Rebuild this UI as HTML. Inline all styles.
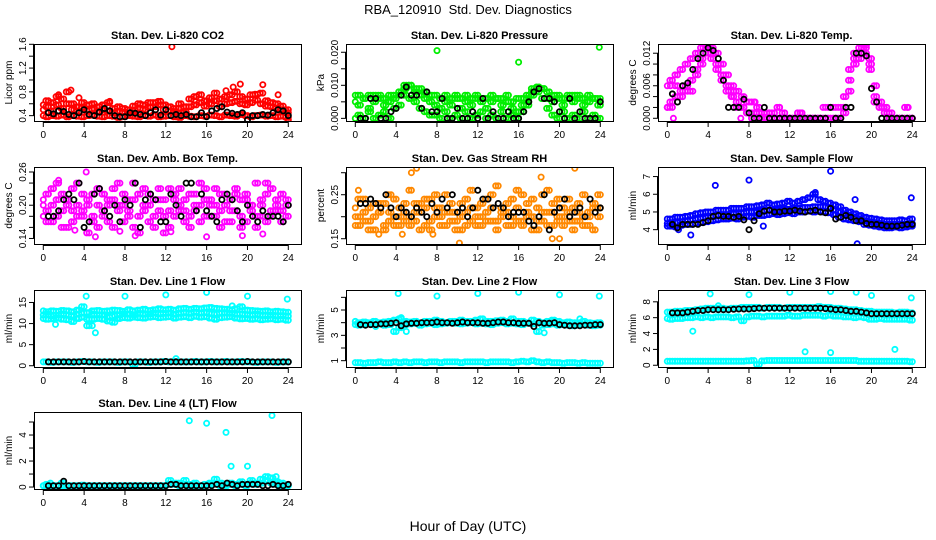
<!DOCTYPE html>
<html><head><meta charset="utf-8"><style>
html,body{margin:0;padding:0;background:#fff;}
svg{display:block;font-family:"Liberation Sans",sans-serif;}
</style></head><body>
<svg id="chart" width="936" height="540" viewBox="0 0 936 540">
<text x="468" y="14" text-anchor="middle" font-size="13" xml:space="preserve">RBA_120910  Std. Dev. Diagnostics</text>
<text x="468" y="531" text-anchor="middle" font-size="14">Hour of Day (UTC)</text>
</svg>
<script>
const hours=[0,0.5,1,1.5,2,2.5,3,3.5,4,4.5,5,5.5,6,6.5,7,7.5,8,8.5,9,9.5,10,10.5,11,11.5,12,12.5,13,13.5,14,14.5,15,15.5,16,16.5,17,17.5,18,18.5,19,19.5,20,20.5,21,21.5,22,22.5,23,23.5,24];
const xTicks=[0,4,8,12,16,20,24];

const co2Lo=[0.40,0.38,0.40,0.39,0.41,0.38,0.40,0.39,0.38,0.40,0.41,0.39,0.38,0.40,0.39,0.37,0.38,0.40,0.39,0.38,0.40,0.39,0.41,0.38,0.39,0.40,0.38,0.37,0.40,0.39,0.38,0.40,0.39,0.41,0.40,0.38,0.41,0.40,0.39,0.42,0.40,0.38,0.40,0.41,0.39,0.40,0.38,0.39,0.37];
const co2Mid=[0.50,0.55,0.48,0.58,0.52,0.60,0.50,0.47,0.53,0.49,0.51,0.46,0.50,0.48,0.45,0.47,0.46,0.44,0.49,0.52,0.50,0.54,0.55,0.58,0.50,0.48,0.47,0.52,0.46,0.55,0.58,0.62,0.56,0.60,0.65,0.55,0.60,0.62,0.64,0.60,0.58,0.62,0.66,0.60,0.56,0.55,0.52,0.50,0.45];
const co2Hi=[0.58,0.65,0.62,0.72,0.68,0.80,0.60,0.55,0.62,0.58,0.60,0.55,0.58,0.62,0.52,0.55,0.52,0.50,0.56,0.60,0.58,0.62,0.62,0.64,0.58,0.55,0.52,0.60,0.55,0.68,0.72,0.75,0.65,0.70,0.78,0.68,0.72,0.75,0.80,0.72,0.68,0.75,0.76,0.78,0.65,0.62,0.60,0.56,0.50];
const co2OutX=[12.6,2.7,19.3,21.5,18.6,17.9,3.5,1.5,6.5,23,24];
const co2OutY=[1.56,0.83,0.93,0.92,0.88,0.82,0.70,0.75,0.64,0.75,0.33];
const co2Black=[0.44,0.45,0.43,0.48,0.47,0.42,0.40,0.45,0.50,0.42,0.40,0.46,0.52,0.48,0.40,0.38,0.38,0.45,0.44,0.42,0.40,0.45,0.50,0.41,0.50,0.40,0.42,0.40,0.42,0.38,0.38,0.45,0.38,0.48,0.52,0.55,0.46,0.44,0.42,0.45,0.33,0.40,0.40,0.42,0.41,0.45,0.50,0.48,0.40];

const prLo=[0,0.001,0,0.002,0,0.001,0.002,0,0.003,0.004,0.007,0.006,0.005,0.003,0.002,0.001,0.001,0,0.002,0,0.001,0,0.002,0,0.001,0.002,0,0.001,0,0.002,0,0.001,0,0.002,0.004,0.007,0.008,0.006,0.003,0.001,0,0.002,0,0.001,0,0.002,0,0.001,0];
const prMid=[0.005,0.004,0.006,0.003,0.005,0.006,0.004,0.005,0.006,0.007,0.009,0.010,0.008,0.007,0.006,0.005,0.004,0.003,0.005,0.004,0.006,0.003,0.005,0.004,0.006,0.005,0.003,0.005,0.006,0.004,0.005,0.003,0.002,0.004,0.006,0.008,0.009,0.009,0.006,0.005,0.006,0.004,0.006,0.005,0.006,0.004,0.005,0.006,0.004];
const prHi=[0.007,0.007,0.006,0.007,0.007,0.007,0.006,0.007,0.007,0.008,0.010,0.010,0.009,0.009,0.008,0.007,0.007,0.006,0.007,0.006,0.007,0.006,0.007,0.006,0.007,0.006,0.006,0.007,0.006,0.006,0.007,0.005,0.006,0.006,0.007,0.009,0.0095,0.009,0.008,0.007,0.007,0.006,0.007,0.007,0.007,0.006,0.007,0.006,0.006];
const prOutX=[8,16,23.9];
const prOutY=[0.0205,0.017,0.0215];
const prBlack=[0,0,0,0.006,0.006,0,0,0.002,0.003,0.007,0.0095,0.007,0.007,0.003,0.008,0.002,0.002,0.006,0,0,0.003,0,0,0.002,0,0.006,0,0.002,0,0,0.002,0,0,0.002,0.005,0.008,0.009,0.006,0.006,0.005,0.002,0,0.006,0,0.002,0,0,0,0.005];

const tpHi=[0.006,0.007,0.008,0.009,0.010,0.011,0.012,0.013,0.0135,0.013,0.012,0.010,0.008,0.006,0.005,0.004,0.003,0.003,0.002,0.001,0.001,0.001,0.002,0.001,0,0,0.001,0,0,0,0,0.002,0.002,0.002,0.002,0.004,0.009,0.012,0.013,0.0135,0.011,0.006,0.003,0.002,0.001,0,0,0.002,0];
const tpMid=[0.002,0.002,0.006,0.004,0.005,0.005,0.008,0.011,0.013,0.012,0.010,0.008,0.006,0.005,0.002,0.002,0.001,0,0,0,0,0,0,0,0,0,0,0,0,0,0,0,0,0,0,0.002,0.007,0.011,0.012,0.013,0.010,0.003,0.002,0.001,0,0,0,0,0];
const tpLo=[0.002,0.003,0.004,0.005,0.006,0.007,0.009,0.010,0.012,0.011,0.009,0.007,0.005,0.004,0.003,0.002,0.001,0.001,0.001,0,0,0,0,0,0,0,0,0,0,0,0,0,0,0,0,0.001,0.005,0.010,0.011,0.012,0.009,0.004,0.002,0.002,0,0,0,0,0];
const tpOutX=[0.3,0.6,6.3,7.2,8.6,11,13.2,23.6];
const tpOutY=[0.006,0.0,0.004,0.0,0.003,0.002,0.001,0.002];
const tpBlack=[0,0.0045,0.003,0.006,0.0065,0.009,0.011,0.012,0.013,0.0125,0.011,0.007,0.002,0.002,0.002,0.0035,0.001,0,0,0.002,0,0,0,0,0,0,0,0,0,0,0,0,0.002,0,0,0.002,0.002,0.012,0.012,0.0115,0.0055,0.003,0,0,0,0,0,0,0];

const abA=[0.21,0.19,0.23,0.18,0.22,0.20,0.17,0.24,0.19,0.21,0.18,0.16,0.22,0.20,0.23,0.19,0.17,0.21,0.24,0.18,0.20,0.22,0.16,0.19,0.21,0.23,0.18,0.20,0.17,0.22,0.19,0.24,0.21,0.18,0.20,0.16,0.22,0.19,0.23,0.21,0.17,0.20,0.24,0.18,0.22,0.19,0.21,0.17,0.20];
const abB=[0.18,0.22,0.17,0.21,0.19,0.16,0.23,0.20,0.18,0.15,0.22,0.20,0.19,0.17,0.21,0.24,0.20,0.18,0.16,0.22,0.19,0.17,0.21,0.23,0.18,0.16,0.22,0.19,0.21,0.18,0.20,0.17,0.23,0.20,0.18,0.22,0.17,0.21,0.19,0.16,0.22,0.20,0.18,0.21,0.17,0.23,0.19,0.22,0.18];
const abC=[0.20,0.17,0.20,0.24,0.16,0.21,0.19,0.18,0.22,0.20,0.17,0.23,0.18,0.21,0.16,0.20,0.22,0.19,0.21,0.15,0.23,0.20,0.18,0.21,0.15,0.19,0.21,0.23,0.19,0.16,0.22,0.20,0.18,0.21,0.23,0.19,0.20,0.17,0.22,0.18,0.21,0.19,0.16,0.20,0.24,0.18,0.20,0.19,0.21];
const abOutX=[4.2,5.1,9,16,21.5,19.5,1.5,3.1,7.5,12.5];
const abOutY=[0.26,0.143,0.145,0.143,0.148,0.145,0.245,0.155,0.153,0.152];
const abBlack=[0.19,0.18,0.18,0.19,0.21,0.22,0.21,0.24,0.16,0.17,0.22,0.23,0.19,0.18,0.20,0.17,0.21,0.20,0.24,0.16,0.21,0.22,0.21,0.17,0.17,0.22,0.20,0.18,0.24,0.24,0.19,0.22,0.19,0.18,0.17,0.21,0.22,0.21,0.19,0.17,0.20,0.18,0.17,0.19,0.18,0.18,0.18,0.17,0.20];

const rhA=[0.22,0.20,0.24,0.19,0.23,0.21,0.18,0.25,0.20,0.22,0.19,0.26,0.21,0.23,0.18,0.24,0.20,0.22,0.25,0.19,0.21,0.23,0.18,0.26,0.22,0.20,0.24,0.19,0.27,0.21,0.23,0.18,0.22,0.25,0.20,0.24,0.19,0.21,0.26,0.23,0.20,0.18,0.24,0.22,0.19,0.25,0.21,0.23,0.20];
const rhB=[0.18,0.24,0.19,0.22,0.17,0.21,0.23,0.19,0.24,0.18,0.21,0.20,0.23,0.17,0.22,0.19,0.25,0.18,0.21,0.23,0.17,0.20,0.24,0.19,0.18,0.23,0.21,0.25,0.19,0.22,0.18,0.24,0.26,0.19,0.23,0.17,0.22,0.25,0.18,0.21,0.24,0.22,0.19,0.17,0.23,0.20,0.18,0.22,0.25];
const rhC=[0.20,0.18,0.21,0.17,0.20,0.23,0.17,0.21,0.18,0.20,0.23,0.18,0.19,0.21,0.24,0.17,0.22,0.20,0.18,0.21,0.19,0.17,0.21,0.22,0.20,0.18,0.19,0.22,0.17,0.20,0.21,0.20,0.19,0.18,0.21,0.20,0.17,0.19,0.21,0.18,0.19,0.20,0.21,0.19,0.21,0.18,0.20,0.17,0.22];
const rhOutX=[5.5,6,4.6,10.2,21.5,18.2,20,19.3,2.3,7.6,0.3];
const rhOutY=[0.30,0.31,0.16,0.14,0.31,0.29,0.15,0.15,0.16,0.16,0.26];
const rhBlack=[0.21,0.23,0.23,0.24,0.23,0.22,0.25,0.22,0.20,0.22,0.21,0.20,0.22,0.21,0.20,0.23,0.21,0.24,0.22,0.25,0.21,0.22,0.20,0.22,0.26,0.24,0.24,0.22,0.23,0.22,0.20,0.21,0.21,0.21,0.19,0.18,0.20,0.25,0.17,0.21,0.22,0.24,0.20,0.21,0.22,0.20,0.24,0.21,0.22];

const sfA=[4.35,4.4,4.4,4.45,4.5,4.55,4.6,4.65,4.7,4.75,4.8,4.85,4.85,4.9,4.9,4.95,5.0,5.0,5.0,5.05,5.1,5.1,5.1,5.15,5.15,5.2,5.2,5.25,5.25,5.3,5.3,5.3,5.25,5.1,5.0,4.9,4.8,4.7,4.6,4.5,4.45,4.4,4.35,4.3,4.3,4.3,4.3,4.3,4.35];
const sfB=[4.6,4.6,4.7,4.7,4.75,4.8,4.9,4.95,5.0,5.0,5.1,5.1,5.1,5.2,5.2,5.2,5.3,5.3,5.35,5.4,5.5,5.4,5.45,5.5,5.6,5.5,5.6,5.7,5.8,6.0,5.7,5.6,5.5,5.4,5.3,5.1,5.0,4.9,4.8,4.7,4.65,4.6,4.55,4.5,4.5,4.5,4.55,4.5,4.6];
const sfC=[4.2,4.2,4.15,4.25,4.3,4.3,4.35,4.4,4.45,4.5,4.55,4.6,4.6,4.65,4.6,4.7,4.75,4.7,4.8,4.8,4.85,4.9,4.85,4.9,4.95,4.9,5.0,5.0,5.05,5.0,5.05,5.0,4.95,4.85,4.7,4.6,4.55,4.5,4.45,4.3,4.25,4.2,4.15,4.1,4.1,4.15,4.1,4.15,4.2];
const sfOutX=[2.3,4.7,8,16,18.6,23.9,18.4,14.5,1.1,9.4];
const sfOutY=[3.7,6.5,6.8,7.3,3.2,5.8,5.7,6.1,4.0,4.2];
const sfBlack=[4.3,4.3,4.1,4.3,4.3,4.3,4.3,4.4,4.5,4.75,4.8,4.75,4.75,4.7,4.75,4.55,4.0,4.5,4.9,5.05,5.1,5.0,5.0,5.05,5.05,5.1,5.05,5.0,5.05,5.1,5.0,4.95,5.2,4.6,4.7,4.8,4.7,4.5,4.5,4.35,4.3,4.3,4.25,4.2,4.2,4.2,4.25,4.3,4.3];

const l1Hi=[13,12.8,13,12.9,13.1,13,12.8,13.2,14,12.6,13,13.1,12.9,13,13.2,13.1,12.9,13.3,13,13.2,13.4,13.1,13.3,13.5,13.3,13.4,13.2,13.5,13.6,13.4,13.6,13.5,13.7,13.8,13.6,13.5,13.4,13.3,13.5,14,13.2,13.1,13,12.9,13,12.8,12.9,12.8,12.7];
const l1Mid=[12,12.2,11.8,12,12.3,12.1,11.9,12.2,12.5,11,12.2,12,12.1,11.5,11.8,12,12.3,12.2,12.1,12.4,12.2,12.3,12.5,12.3,12.4,12.5,12.2,12.4,12.6,12.5,12.7,12.5,12.6,12.4,12.3,12.5,12.6,12.4,12.2,12.3,12.1,12,12.2,12,11.9,12,11.8,11.9,11.8];
const l1Lo=[11.2,11,11.1,11.3,11,10.9,10.5,11.2,11.5,9.5,11,11.2,11,10.6,10.3,11.2,11.4,11.3,11.5,11.4,11.3,11.5,11.6,11.4,11.5,11.6,11.3,11.5,11.6,11.4,11.7,11.5,11.6,11.3,11,11.4,11.5,11.6,11.3,11.1,11.2,11,11.1,10.9,11,11.1,10.9,11,10.8];
const l1Base=[0.9,0.9,0.8,0.9,0.9,0.9,0.8,0.9,1.0,0.9,0.9,0.8,0.9,0.9,0.9,0.8,0.9,0.9,0.3,0.9,0.9,0.8,0.9,0.9,1.0,0.9,1.0,0.9,0.9,0.9,1.0,0.9,0.9,1.0,0.9,0.9,1.0,0.9,0.9,1.0,0.9,0.9,0.8,0.9,0.9,0.9,0.8,0.9,0.9];
const l1OutX=[4.2,5.1,8,12,16,20,23.9,1.2,4.8,13,18.5];
const l1OutY=[16.5,7.8,16.5,16.8,17.4,16.5,15.8,9.8,9.5,1.7,14.2];
const l1Black=[0.9,0.9,0.9,0.9,0.9,0.9,0.9,0.9,1.0,0.9,0.9,0.9,0.9,0.9,0.9,0.9,0.9,0.9,0.9,0.9,0.9,0.9,0.9,0.9,1.0,0.9,0.9,0.9,0.9,0.9,0.9,0.9,0.9,0.9,0.9,0.9,0.9,0.9,0.9,0.9,1.0,0.9,0.9,0.9,0.9,0.9,0.9,0.9,0.9];

const l2Hi=[4.1,4.0,4.05,4.0,4.1,4.0,4.05,4.1,4.2,4.3,4.1,4.05,4.1,4.0,4.1,4.1,4.2,4.1,4.0,4.1,4.1,4.2,4.1,4.1,4.2,4.3,4.1,4.1,4.15,4.2,4.1,4.3,4.1,4.1,4.0,4.2,4.1,4.0,4.1,4.2,4.1,4.0,4.05,4.0,4.0,4.1,4.0,3.95,4.0];
const l2Lo=[3.85,3.8,3.85,3.9,3.85,3.9,3.8,3.85,3.3,3.6,3.85,3.9,3.95,3.8,3.9,3.95,3.85,3.9,3.95,4.0,3.95,3.9,3.95,4.0,3.9,3.95,3.9,3.85,3.95,4.0,3.9,3.95,3.9,3.85,3.95,3.9,3.3,3.8,3.85,3.9,3.8,3.85,3.8,3.75,3.8,3.85,3.8,3.75,3.8];
const l2Base=[0.85,0.85,0.8,0.85,0.85,0.9,0.85,0.85,0.9,0.85,0.9,0.85,0.9,0.9,0.85,0.9,0.9,0.85,0.9,0.9,0.9,0.85,0.9,0.9,0.9,0.9,0.85,0.9,0.9,0.9,0.9,0.85,0.9,0.95,0.9,1.0,0.9,0.85,0.9,0.85,0.85,0.8,0.85,0.85,0.8,0.85,0.8,0.8,0.8];
const l2OutX=[4.2,8,12,16,20,23.9,5,18.5,4.5,22,2,12.5];
const l2OutY=[6.3,6.1,6.3,6.4,6.2,6.1,3.3,3.2,4.4,4.3,3.7,4.3];
const l2Black=[3.8,3.85,3.8,3.85,3.85,3.9,3.9,3.95,4.0,3.75,3.9,3.95,3.95,4.0,4.0,4.0,4.05,4.0,4.0,3.95,4.0,4.05,4.0,4.0,4.0,3.95,3.95,4.0,4.05,4.05,4.0,4.0,3.95,3.95,3.95,3.7,4.0,3.95,3.95,4.0,3.85,3.8,3.75,3.75,3.75,3.8,3.8,3.85,3.85];

const l3Hi=[6.7,6.7,6.8,6.8,6.9,6.9,7.0,7.1,7.2,7.2,7.2,7.2,7.1,7.2,7.2,7.3,7.3,7.3,7.3,7.2,7.3,7.3,7.3,7.2,7.3,7.3,7.3,7.3,7.3,7.3,7.4,7.3,7.3,7.2,7.2,7.1,7.0,7.0,6.9,6.8,6.8,6.7,6.7,6.7,6.7,6.6,6.7,6.7,6.6];
const l3Lo=[5.9,5.8,5.9,5.9,6.0,6.0,6.1,6.0,6.1,6.0,6.1,6.1,6.1,6.0,6.1,5.6,6.1,6.2,6.2,6.1,6.2,6.2,6.2,6.2,6.3,6.2,6.2,6.3,6.3,6.3,6.3,6.2,6.3,6.2,6.2,6.1,6.1,6.0,6.1,6.0,5.8,5.8,5.9,5.8,5.8,5.8,5.8,5.8,5.7];
const l3Base=[0.5,0.5,0.5,0.5,0.5,0.5,0.5,0.5,0.5,0.5,0.5,0.5,0.5,0.5,0.5,0.5,0.55,0.6,0.1,0.55,0.6,0.6,0.6,0.6,0.6,0.6,0.6,0.6,0.6,0.6,0.6,0.6,0.6,0.6,0.6,0.6,0.6,0.6,0.5,0.5,0.5,0.5,0.5,0.5,0.5,0.5,0.5,0.5,0.45];
const l3OutX=[2.5,4.2,8,12,16,18.5,20,23.9,13.5,16,22.3,5];
const l3OutY=[4.3,9,8.9,9.2,9.3,9.2,8.8,8.5,1.7,1.6,2.0,7.5];
const l3Black=[6.6,6.6,6.6,6.6,6.7,6.8,6.9,6.9,7.0,7.0,7.0,7.0,7.0,7.05,7.1,7.1,7.1,7.15,7.2,7.2,7.2,7.2,7.2,7.2,7.2,7.2,7.2,7.2,7.2,7.2,7.2,7.15,7.1,7.0,7.0,6.9,6.8,6.8,6.7,6.6,6.5,6.5,6.5,6.5,6.5,6.5,6.5,6.5,6.5];

const l4A=[0.1,0.2,0.1,0.1,0.3,0.1,0.1,0.1,0.15,0.1,0.1,0.1,0.1,0.1,0.1,0.1,0.1,0.1,0.1,0.1,0.1,0.1,0.1,0.1,0.1,0.5,0.3,0.3,0.5,0.2,0.3,0.1,0.2,0.3,0.6,0.3,0.2,0.3,0.2,0.4,0.2,0.5,0.3,0.6,0.8,0.7,0.4,0.3,0.1];
const l4B=[0.1,0.1,0.1,0.1,0.1,0.1,0.1,0.1,0.1,0.1,0.1,0.1,0.1,0.1,0.1,0.1,0.1,0.1,0.1,0.1,0.1,0.1,0.1,0.1,0.1,0.2,0.2,0.1,0.2,0.1,0.1,0.1,0.1,0.2,0.3,0.1,0.1,0.2,0.1,0.2,0.1,0.3,0.2,0.3,0.5,0.3,0.2,0.1,0.1];
const l4OutX=[14.3,16,17.9,18.4,20,22.4,0.7,22.8];
const l4OutY=[5.1,4.9,4.2,1.6,1.6,5.5,0.3,0.8];
const l4Black=[0.1,0.1,0.1,0.1,0.45,0.1,0.1,0.1,0.1,0.1,0.1,0.1,0.1,0.1,0.1,0.1,0.1,0.1,0.1,0.1,0.1,0.1,0.1,0.1,0.1,0.2,0.2,0.1,0.1,0.1,0.1,0.1,0.1,0.1,0.2,0.1,0.3,0.2,0.1,0.2,0.2,0.2,0.2,0.1,0.1,0.2,0.1,0.1,0.2];

const NS="http://www.w3.org/2000/svg";
const svg=document.getElementById('chart');
function mk(tag,attrs,parent){const e=document.createElementNS(NS,tag);for(const k in attrs)e.setAttribute(k,attrs[k]);(parent||svg).appendChild(e);return e;}

const panels=[
 {key:'co2',title:'Stan. Dev. Li-820 CO2',ylab:'Licor ppm',col:0,row:0,ylim:[0.31,1.605],ticks:[0.4,0.6,0.8,1.0,1.2,1.4,1.6],labels:['0.4','','0.8','','1.2','','1.6'],color:'#ff0000',series:[co2Lo,co2Mid,co2Hi],outX:co2OutX,outY:co2OutY,black:co2Black},
 {key:'pressure',title:'Stan. Dev. Li-820 Pressure',ylab:'kPa',col:1,row:0,ylim:[-0.0008,0.0225],ticks:[0,0.005,0.01,0.015,0.02],labels:['0.000','','0.010','','0.020'],color:'#00ee00',series:[prLo,prMid,prHi],outX:prOutX,outY:prOutY,black:prBlack},
 {key:'temp',title:'Stan. Dev. Li-820 Temp.',ylab:'degrees C',col:2,row:0,ylim:[-0.0005,0.0137],ticks:[0,0.002,0.004,0.006,0.008,0.01,0.012],labels:['0.000','','','0.006','','','0.012'],color:'#ff00ff',series:[tpLo,tpMid,tpHi],outX:tpOutX,outY:tpOutY,black:tpBlack},
 {key:'ambbox',title:'Stan. Dev. Amb. Box Temp.',ylab:'degrees C',col:0,row:1,ylim:[0.130,0.269],ticks:[0.14,0.16,0.18,0.20,0.22,0.24,0.26],labels:['0.14','','','0.20','','','0.26'],color:'#ff00ff',series:[abA,abB,abC],outX:abOutX,outY:abOutY,black:abBlack},
 {key:'rh',title:'Stan. Dev. Gas Stream RH',ylab:'percent',col:1,row:1,ylim:[0.138,0.313],ticks:[0.15,0.20,0.25,0.30],labels:['0.15','','0.25',''],color:'#ff8800',series:[rhA,rhB,rhC],outX:rhOutX,outY:rhOutY,black:rhBlack},
 {key:'sampleflow',title:'Stan. Dev. Sample Flow',ylab:'ml/min',col:2,row:1,ylim:[3.19,7.54],ticks:[4,5,6,7],labels:['4','5','6','7'],color:'#0000ff',series:[sfA,sfB,sfC],outX:sfOutX,outY:sfOutY,black:sfBlack},
 {key:'line1',title:'Stan. Dev. Line 1 Flow',ylab:'ml/min',col:0,row:2,ylim:[-0.3,17.96],ticks:[0,5,10,15],labels:['0','5','10','15'],color:'#00ffff',series:[l1Hi,l1Mid,l1Lo,l1Base],outX:l1OutX,outY:l1OutY,black:l1Black},
 {key:'line2',title:'Stan. Dev. Line 2 Flow',ylab:'ml/min',col:1,row:2,ylim:[0.5,6.58],ticks:[1,2,3,4,5,6],labels:['1','','3','','5',''],color:'#00ffff',series:[l2Hi,l2Lo,l2Base],outX:l2OutX,outY:l2OutY,black:l2Black},
 {key:'line3',title:'Stan. Dev. Line 3 Flow',ylab:'ml/min',col:2,row:2,ylim:[-0.22,9.49],ticks:[0,2,4,6,8],labels:['0','2','4','6','8'],color:'#00ffff',series:[l3Hi,l3Lo,l3Base],outX:l3OutX,outY:l3OutY,black:l3Black},
 {key:'line4',title:'Stan. Dev. Line 4 (LT) Flow',ylab:'ml/min',col:0,row:3,ylim:[-0.15,5.77],ticks:[0,1,2,3,4,5],labels:['0','','2','','4',''],color:'#00ffff',series:[l4A,l4B],outX:l4OutX,outY:l4OutY,black:l4Black}
];
const colX=[34,346,658], rowY=[44,167,290,412], W=267, H=77;

panels.forEach(p=>{
  const bx=colX[p.col], by=rowY[p.row];
  const g=mk('g',{});
  
  
  const xs=v=>bx+9.3+(v)*(245/24);
  const ys=v=>by+H-(v-p.ylim[0])/(p.ylim[1]-p.ylim[0])*H;
  const cid='clip-'+p.key;
  const cp=mk('clipPath',{id:cid},g); mk('rect',{x:bx,y:by,width:W,height:H},cp);
  const pts=mk('g',{'clip-path':'url(#'+cid+')'},g);
  
  
  const n=p.series.length;
  p.series.forEach((arr,si)=>{
    const other=p.series[(si+1)%n];
    arr.forEach((v,i)=>{
      const c=mk('circle',{cx:xs(hours[i]).toFixed(1),cy:ys(v).toFixed(1),r:2.6,fill:'none',stroke:p.color,'stroke-width':1.8},pts);
      
      
      if(i<arr.length-1){
        const c2=mk('circle',{cx:xs((hours[i]+hours[i+1])/2).toFixed(1),cy:ys(other[i+1]).toFixed(1),r:2.6,fill:'none',stroke:p.color,'stroke-width':1.8},pts);
        
        
      }
    });
  });
  p.outX.forEach((x,i)=>{
    const c=mk('circle',{cx:xs(x).toFixed(1),cy:ys(p.outY[i]).toFixed(1),r:2.6,fill:'none',stroke:p.color,'stroke-width':1.8},pts);
    
    
  });
  p.black.forEach((v,i)=>{
    if(i===0) return;
    const c=mk('circle',{cx:xs(hours[i]).toFixed(1),cy:ys(v).toFixed(1),r:2.6,fill:'none',stroke:'#000','stroke-width':1.8},pts);
    
    
  });
  const box=mk('rect',{x:bx+0.5,y:by+0.5,width:W,height:H,fill:'none',stroke:'#000','stroke-width':1},g);
  
  
  const t=mk('text',{x:bx+W/2,y:by-5,'text-anchor':'middle','font-size':11,'font-weight':'bold'},g);
  t.textContent=p.title;
  
  
  mk('line',{x1:xs(0),x2:xs(24),y1:by+H+1.5,y2:by+H+1.5,stroke:'#000'},g);
  xTicks.forEach(v=>{
    mk('line',{x1:xs(v),x2:xs(v),y1:by+H+1,y2:by+H+6,stroke:'#000'},g);
    const tl=mk('text',{x:xs(v),y:by+H+17,'text-anchor':'middle','font-size':10},g);
    tl.textContent=v;
    
    
  });
  mk('line',{x1:bx-0.5,x2:bx-0.5,y1:ys(p.ticks[0]),y2:ys(p.ticks[p.ticks.length-1]),stroke:'#000'},g);
  p.ticks.forEach((v,i)=>{
    const yy=ys(v);
    mk('line',{x1:bx-5,x2:bx,y1:yy,y2:yy,stroke:'#000'},g);
    if(p.labels[i]){
      const tl=mk('text',{x:0,y:0,'text-anchor':'middle','font-size':10,transform:'translate('+(bx-8)+','+yy+') rotate(-90)'},g);
      tl.textContent=p.labels[i];
      
      
    }
  });
  const yl=mk('text',{x:0,y:0,'text-anchor':'middle','font-size':10,transform:'translate('+(bx-22)+','+(by+H/2)+') rotate(-90)'},g);
  yl.textContent=p.ylab;
  
  
});
</script>
</body></html>
